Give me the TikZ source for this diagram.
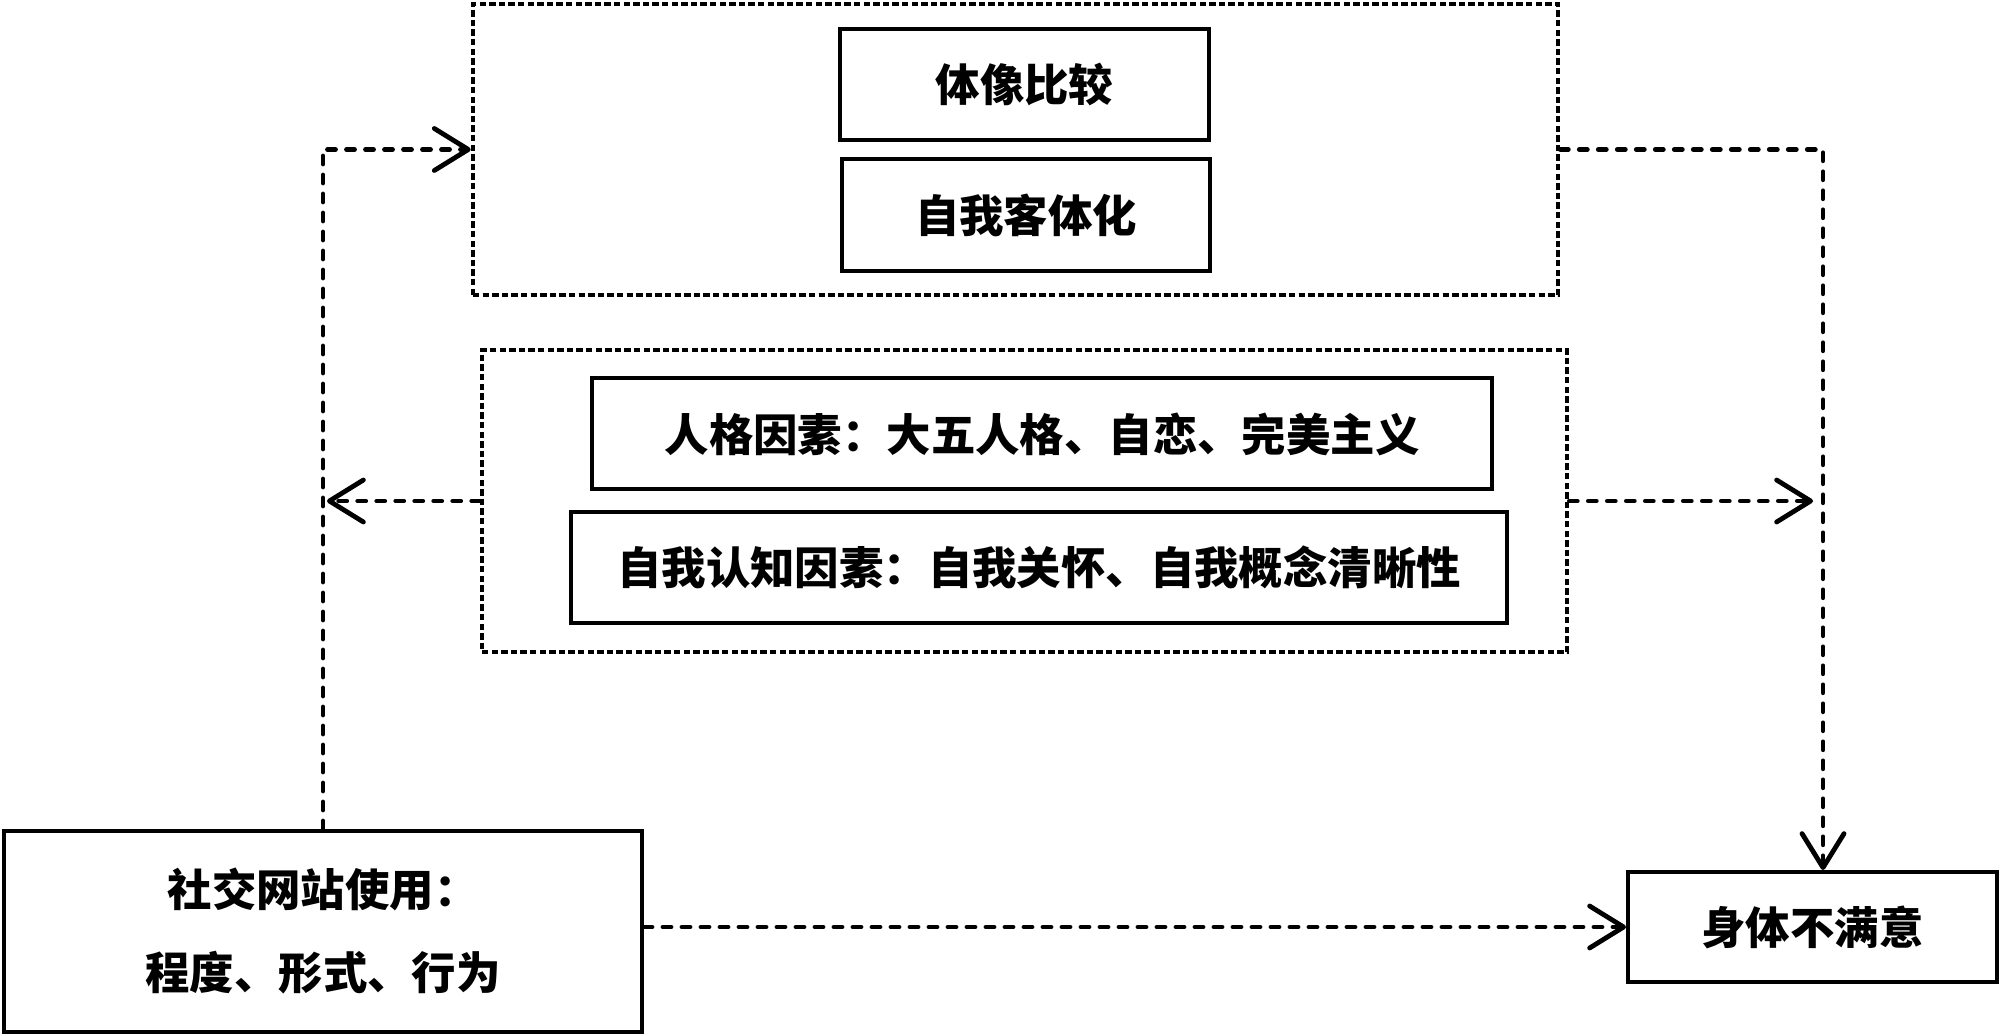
\documentclass[tikz,border=0pt]{standalone}
\usepackage{fontspec}
\setmainfont{Noto Sans CJK SC}
\usetikzlibrary{arrows.meta}
\newcommand\figfont{\fontsize{22.2pt}{41.5pt}\selectfont\bfseries}
\begin{document}
\begin{tikzpicture}[x=0.5pt,y=-0.5pt,
  solidbox/.style={draw, line width=2pt, rectangle, inner sep=0pt, font=\figfont, align=center},
  groupbox/.style={draw, line width=2.3pt, rectangle, inner sep=0pt, line cap=butt,
    dash pattern=on 3.2pt off 1.6pt},
  conn/.style={line width=2.4pt, line cap=round, dash pattern=on 4pt off 5.5pt,
    -{Straight Barb[length=17pt,width=21pt,round]}}]
\useasboundingbox[fill=white] (0,0) rectangle (2000,1036);

% mediator group
\node[groupbox, minimum width=542.5pt, minimum height=145.5pt] (med) at (1015.5,149.5) {};
\node[solidbox, minimum width=184.5pt, minimum height=55.5pt] (cmp) at (1024.5,84.5) {体像比较};
\node[solidbox, minimum width=184pt, minimum height=56pt] (obj) at (1026,215) {自我客体化};

% moderator group
\node[groupbox, minimum width=542.5pt, minimum height=151pt] (mod) at (1024.5,501) {};
\node[solidbox, minimum width=450pt, minimum height=55.5pt] (pers) at (1042,434) {人格因素：大五人格、自恋、完美主义};
\node[solidbox, minimum width=468pt, minimum height=55.5pt] (cogn) at (1039,567.5) {自我认知因素：自我关怀、自我概念清晰性};

% endpoints
\node[solidbox, minimum width=319pt, minimum height=100.5pt] (sns) at (323,931.5) {社交网站使用：\\程度、形式、行为};
\node[solidbox, minimum width=184.5pt, minimum height=55pt] (bd) at (1812.5,927) {身体不满意};

\coordinate (rv) at (1823,0);

% connectors
\draw[conn] (sns.north) |- (med.west);
\draw[conn] (med.east) -| (rv |- bd.north);
\draw[conn, shorten >=2pt] (mod.west) -- (mod.west -| sns.north);
\draw[conn, shorten >=5pt] (mod.east) -- (mod.east -| rv);
\draw[conn] (sns.east |- bd.west) -- (bd.west);
\end{tikzpicture}
\end{document}
